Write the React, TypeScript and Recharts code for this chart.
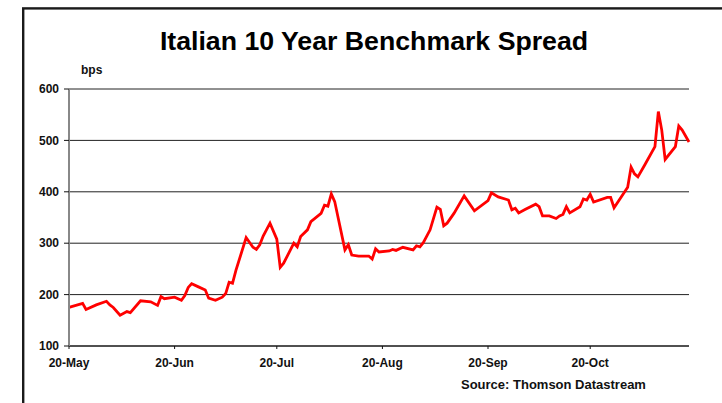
import React from 'react'
import { LineChart, Line, XAxis, YAxis, CartesianGrid } from 'recharts'

// days counted from 20 May, spread in basis points
const day = [
  0, 4, 5, 8, 11, 12, 13, 15, 17, 18, 21, 24, 26, 27, 28, 31, 33, 34, 35, 36,
  38, 40, 41, 43, 45, 46, 47, 48, 49, 52, 54, 55, 56, 57, 59, 61, 62, 63, 66, 67,
  68, 70, 71, 74, 75, 76, 77, 78, 81, 82, 83, 85, 88, 89, 90, 91, 94, 95, 96, 98,
  101, 102, 103, 104, 106, 108, 109, 110, 111, 113, 116, 119, 123, 124, 126, 129, 130, 131, 132, 134,
  137, 138, 139, 141, 143, 144, 145, 146, 147, 150, 151, 152, 153, 154, 158, 159, 160, 164, 165, 166,
  167, 169, 172, 173, 174, 175, 178, 179, 180, 182,
]
const spread = [
  175, 183, 171, 180, 187, 180, 175, 160, 167, 165, 188, 186, 179, 196, 192, 195, 189, 198, 214, 221,
  215, 209, 193, 189, 195, 202, 224, 222, 247, 311, 292, 288, 297, 314, 339, 308, 253, 261, 300, 293,
  313, 326, 342, 358, 374, 372, 396, 381, 287, 297, 277, 275, 275, 269, 289, 283, 285, 288, 286, 292,
  287, 295, 293, 301, 326, 370, 366, 334, 339, 358, 392, 363, 383, 398, 390, 384, 365, 368, 359, 366,
  376, 371, 353, 353, 348, 353, 356, 371, 359, 371, 386, 384, 395, 380, 389, 389, 369, 409, 448, 435,
  429, 452, 488, 556, 520, 463, 488, 528, 520, 497,
]

const monthTicks = [0, 31, 61, 92, 123, 153]
const monthLabels = ['20-May', '20-Jun', '20-Jul', '20-Aug', '20-Sep', '20-Oct']
const bpsTicks = [100, 200, 300, 400, 500, 600]

const data = day.map((d, i) => ({ day: d, spread: spread[i] }))

const font = 'Arial, "Liberation Sans", Helvetica, sans-serif'
const tickStyle = { fontSize: 12, fontWeight: 700, fill: '#111', fontFamily: font }

export default function App() {
  return (
    <div style={{ position: 'absolute', left: 0, top: 0, width: 722, height: 403, background: '#fff', overflow: 'hidden' }}>
      <LineChart
        width={722}
        height={403}
        data={data}
        margin={{ top: 89, right: 33, left: 9, bottom: 27 }}
      >
        <CartesianGrid vertical={false} stroke="#222" strokeOpacity={1} />
        <XAxis
          dataKey="day"
          type="number"
          domain={[0, 182]}
          ticks={monthTicks}
          interval={0}
          tickFormatter={(v: number) => monthLabels[monthTicks.indexOf(v)] ?? ''}
          tick={tickStyle}
          tickSize={3}
          tickMargin={9}
          height={30}
          axisLine={{ stroke: '#111' }}
          tickLine={{ stroke: '#111' }}
        />
        <YAxis
          domain={[100, 600]}
          ticks={bpsTicks}
          interval={0}
          tick={tickStyle}
          tickSize={5}
          tickMargin={5}
          width={60}
          axisLine={{ stroke: '#888', strokeWidth: 2 }}
          tickLine={{ stroke: '#111' }}
        />
        <Line
          type="linear"
          dataKey="spread"
          stroke="#ff0000"
          strokeWidth={2.8}
          dot={false}
          isAnimationActive={false}
        />
      </LineChart>
      <svg
        width={722}
        height={403}
        style={{ position: 'absolute', left: 0, top: 0, pointerEvents: 'none' }}
        fontFamily={font}
      >
        <rect x={23.2} y={8.4} width={800} height={500} fill="none" stroke="#1a1a1a" strokeWidth={2.4} />
        <text x={374} y={50} textAnchor="middle" fontSize={26.7} fontWeight={700} fill="#000">
          Italian 10 Year Benchmark Spread
        </text>
        <text x={81} y={74} fontSize={12} fontWeight={700} fill="#111">
          bps
        </text>
        <text x={461} y={389} fontSize={13} fontWeight={700} fill="#111">
          Source: Thomson Datastream
        </text>
      </svg>
    </div>
  )
}
